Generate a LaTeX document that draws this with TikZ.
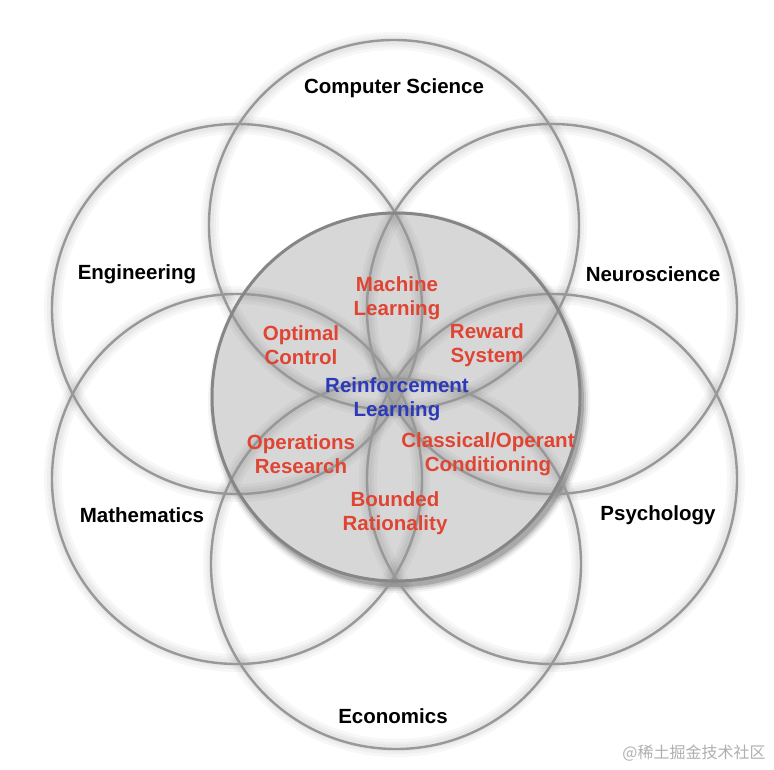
\documentclass[tikz,border=0pt]{standalone}
\usepackage{fontspec}
\setmainfont{Liberation Sans}
\newfontfamily\cjkfont{Noto Sans CJK SC}
\usetikzlibrary{positioning}
\definecolor{ringc}{RGB}{152,152,152}
\definecolor{corefill}{RGB}{215,215,215}
\definecolor{fieldred}{RGB}{224,68,50}
\definecolor{fieldblue}{RGB}{44,58,186}
\definecolor{markc}{RGB}{175,175,175}

\begin{document}
\begin{tikzpicture}[x=1pt, y=-1pt,
  ring/.style={draw=ringc, line width=2.4pt},
  halo/.style={draw=black, opacity=0.03},
  field/.style={font=\fontsize{20.5}{24}\selectfont\bfseries, align=center},
  sub/.style={field, text=fieldred},
  core/.style={field, text=fieldblue}
]
  \useasboundingbox (0,0) rectangle (774,770);
  \fill[white] (0,0) rectangle (774,770);

  % centres of the rings
  \coordinate (o)  at (396,397);
  \coordinate (cs) at (394,225);
  \coordinate (ns) at (552,309);
  \coordinate (py) at (552,479);
  \coordinate (ec) at (396,564);
  \coordinate (ma) at (237,479);
  \coordinate (en) at (237,309);

  % shaded core with its shadow
  \foreach \r/\op in {191/0.04,189/0.07,187/0.11,185/0.16}
    \fill[black, opacity=\op] ([shift={(3,5)}]o) circle (\r);
  \fill[corefill] (o) circle (184);

  \foreach \c in {cs,ns,py,ec,ma,en}
    \foreach \w in {18,12,7}
      \draw[halo, line width=\w pt] (\c) circle (184);
  \foreach \c in {cs,ns,py,ec,ma,en}
    \draw[ring] (\c) circle (185);
  \draw[ring, draw=ringc!88!black, line width=3pt] (o) circle (184);

  % disciplines
  \node[field] (csl) at (394,88)  {Computer Science};
  \node[field] (enl) at (137,274) {Engineering};
  \node[field] (nsl) at (653,274) {Neuroscience};
  \node[field] (mal) at (142,515) {Mathematics};
  \node[field] (pyl) at (658,515) {Psychology};
  \node[field] (ecl) at (393,716) {Economics};

  % overlaps
  \node[sub] (ml) at (397,298) {Machine\\Learning};
  \node[sub] (oc) at (301,345) {Optimal\\Control};
  \node[sub] (rs) at (487,345) {Reward\\System};
  \node[core] (rl) at (397,399) {Reinforcement\\Learning};
  \node[sub] (or) at (301,454) {Operations\\Research};
  \node[sub] (co) at (488,454) {Classical/Operant\\Conditioning};
  \node[sub] (br) at (395,513) {Bounded\\Rationality};

  \node[text=markc, font=\cjkfont\fontsize{16}{18}\selectfont] (wm) at (694,753) {@稀土掘金技术社区};
\end{tikzpicture}
\end{document}
